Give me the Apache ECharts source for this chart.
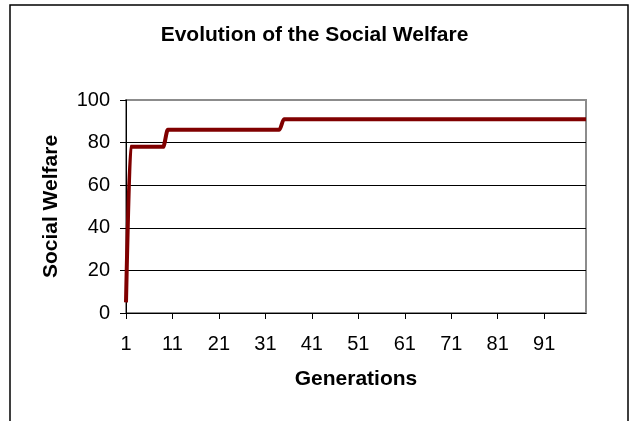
<!DOCTYPE html>
<html>
<head>
    <meta charset="UTF-8">
    <title>Evolution of the Social Welfare</title>
    <script src="https://cdn.jsdelivr.net/npm/echarts@6/dist/echarts.min.js"></script>
    <style>
        html, body { margin: 0; padding: 0; background: #fff; }
        #chart { width: 629px; height: 421px; }
    </style>
</head>
<body>
    <div id="chart"></div>
<script type="text/javascript">
    // generations 1..100
    var generations = [];
    for (var g = 1; g <= 100; g++) {
        generations.push(String(g));
    }
    // social welfare per generation
    var welfareStart = [5];
    var welfareStage1 = [78, 78, 78, 78, 78, 78, 78, 78];          // gen 2-9
    var welfareStage2 = [86, 86, 86, 86, 86, 86, 86, 86, 86, 86,
                         86, 86, 86, 86, 86, 86, 86, 86, 86, 86,
                         86, 86, 86, 86, 86];                      // gen 10-34
    var welfareStage3 = [91, 91, 91, 91, 91, 91, 91, 91, 91, 91,
                         91, 91, 91, 91, 91, 91, 91, 91, 91, 91,
                         91, 91, 91, 91, 91, 91, 91, 91, 91, 91,
                         91, 91, 91, 91, 91, 91, 91, 91, 91, 91,
                         91, 91, 91, 91, 91, 91, 91, 91, 91, 91,
                         91, 91, 91, 91, 91, 91, 91, 91, 91, 91,
                         91, 91, 91, 91, 91, 91];                  // gen 35-100
    var welfare = welfareStart.concat(welfareStage1, welfareStage2, welfareStage3);

    var font = 'Liberation Sans, Arial, sans-serif';

    var option = {
        animation: false,
        title: {
            text: 'Evolution of the Social Welfare',
            left: 'center',
            top: 20,
            textStyle: { fontFamily: font, fontSize: 21, fontWeight: 'bold', color: '#000' }
        },
        graphic: [{
            type: 'rect',
            shape: { x: 10, y: 5, width: 618, height: 430 },
            style: { fill: 'none', stroke: '#000', lineWidth: 1.5 },
            silent: true
        }],
        grid: {
            left: 126,
            top: 100,
            right: 43,
            bottom: 108,
            show: true,
            borderColor: '#8c8c8c',
            borderWidth: 2,
            backgroundColor: '#fff'
        },
        xAxis: {
            type: 'category',
            data: generations,
            boundaryGap: false,
            name: 'Generations',
            nameLocation: 'middle',
            nameGap: 56,
            nameTextStyle: { fontFamily: font, fontSize: 21, fontWeight: 'bold', color: '#000' },
            axisLine: { lineStyle: { color: '#000', width: 1 } },
            axisTick: { interval: 9, length: 6, lineStyle: { color: '#000' } },
            axisLabel: { interval: 9, margin: 21, fontFamily: font, fontSize: 20, color: '#000' },
            splitLine: { show: false }
        },
        yAxis: {
            type: 'value',
            min: 0,
            max: 100,
            interval: 20,
            name: 'Social Welfare',
            nameLocation: 'middle',
            nameGap: 64,
            nameTextStyle: { fontFamily: font, fontSize: 21, fontWeight: 'bold', color: '#000' },
            axisLine: { show: true, lineStyle: { color: '#000', width: 1 } },
            axisTick: { show: true, length: 6, lineStyle: { color: '#000' } },
            axisLabel: { margin: 16, fontFamily: font, fontSize: 20, color: '#000' },
            splitLine: { show: true, showMinLine: false, showMaxLine: false, lineStyle: { color: '#000', width: 1 } }
        },
        series: [{
            name: 'Social Welfare',
            type: 'line',
            data: welfare,
            smooth: 0.3,
            smoothMonotone: 'x',
            showSymbol: false,
            lineStyle: { color: '#800000', width: 4 },
            itemStyle: { color: '#800000' }
        }]
    };
    echarts.init(document.getElementById('chart')).setOption(option);
</script>
</body>
</html>
